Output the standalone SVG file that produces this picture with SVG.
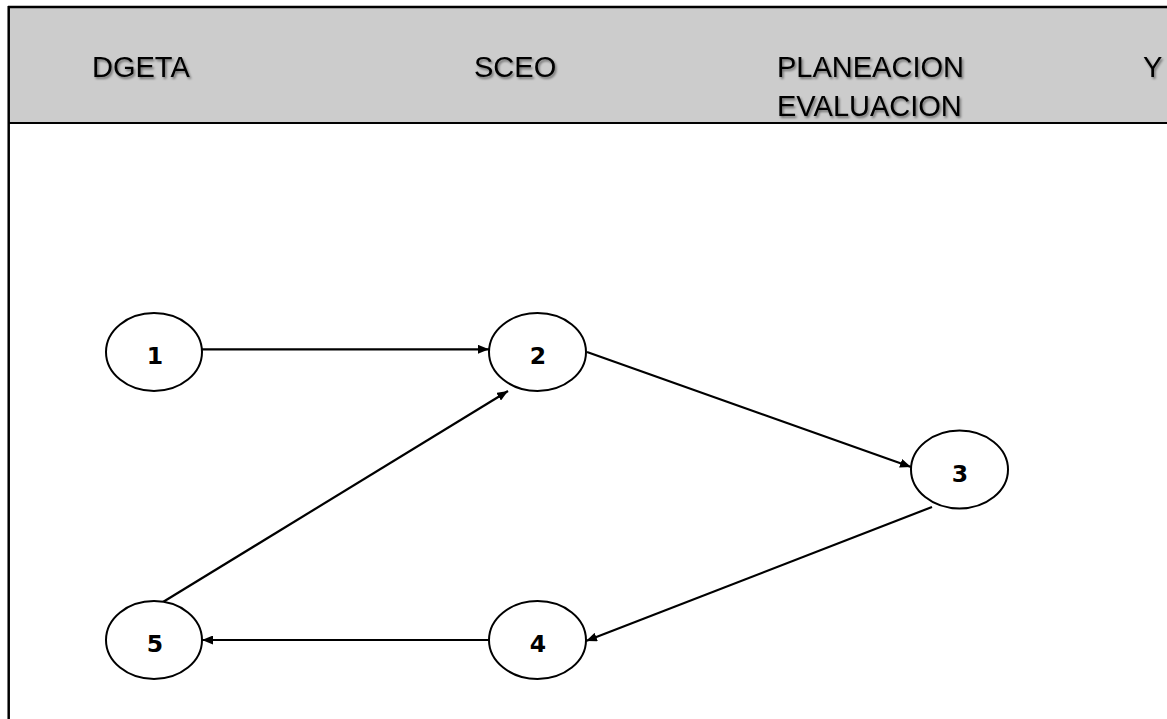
<svg xmlns="http://www.w3.org/2000/svg" width="1167" height="719" viewBox="0 0 1167 719">
  <style>
    .hdr { font-family: "Liberation Sans", Arial, sans-serif; font-size: 29px; fill: #000; }
    .node ellipse { fill: #fff; stroke: #000; stroke-width: 2; }
    .node text { font-family: "DejaVu Sans", "Liberation Sans", sans-serif; font-weight: bold; font-size: 23.5px; text-anchor: middle; fill: #000; }
    .conn line { stroke: #000; stroke-width: 2.2; }
  </style>
  <defs>
    <filter id="sh" x="-10%" y="-20%" width="130%" height="160%">
      <feDropShadow dx="1.5" dy="2" stdDeviation="1.2" flood-color="#000" flood-opacity="0.45"/>
    </filter>
    <marker id="ah" markerWidth="11" markerHeight="9" refX="11" refY="4.5" orient="auto" markerUnits="userSpaceOnUse">
      <path d="M0,0 L11,4.5 L0,9 Z" fill="#000"/>
    </marker>
  </defs>
  <rect x="0" y="0" width="1167" height="719" fill="#fff"/>
  <g id="header">
    <rect x="9" y="7" width="1160" height="116" fill="#cccccc"/>
    <line x1="8" y1="7" x2="1167" y2="7" stroke="#000" stroke-width="2.5"/>
    <line x1="8.7" y1="6" x2="8.7" y2="719" stroke="#000" stroke-width="2.5"/>
    <line x1="8" y1="123" x2="1167" y2="123" stroke="#000" stroke-width="2"/>
    <g filter="url(#sh)">
      <text class="hdr" x="92" y="77">DGETA</text>
      <text class="hdr" x="474" y="77">SCEO</text>
      <text class="hdr" x="777" y="77">PLANEACION</text>
      <text class="hdr" x="777" y="116">EVALUACION</text>
      <text class="hdr" x="1143" y="77">Y</text>
    </g>
  </g>
  <g id="connectors" class="conn">
    <line x1="202" y1="349.3" x2="489" y2="349.3" marker-end="url(#ah)"/>
    <line x1="587" y1="352" x2="911" y2="467" marker-end="url(#ah)"/>
    <line x1="932" y1="507" x2="586" y2="641" marker-end="url(#ah)"/>
    <line x1="489" y1="640" x2="202" y2="640" marker-end="url(#ah)"/>
    <line x1="163" y1="602" x2="508" y2="391" marker-end="url(#ah)"/>
  </g>
  <g id="node1" class="node">
    <ellipse cx="154" cy="352" rx="48" ry="39"/>
    <text x="155" y="364">1</text>
  </g>
  <g id="node2" class="node">
    <ellipse cx="537.5" cy="352" rx="48.5" ry="39"/>
    <text x="538" y="364">2</text>
  </g>
  <g id="node3" class="node">
    <ellipse cx="959.5" cy="469.5" rx="48.5" ry="39"/>
    <text x="960" y="482">3</text>
  </g>
  <g id="node4" class="node">
    <ellipse cx="537.5" cy="640" rx="48.5" ry="39"/>
    <text x="538" y="652">4</text>
  </g>
  <g id="node5" class="node">
    <ellipse cx="154" cy="640" rx="48" ry="39"/>
    <text x="155" y="652">5</text>
  </g>
</svg>
